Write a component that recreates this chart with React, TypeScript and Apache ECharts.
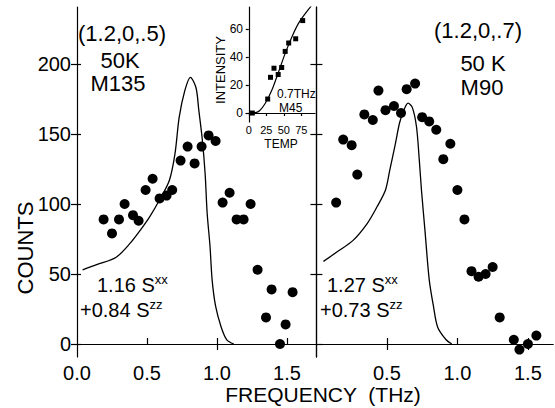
import React, { useEffect, useRef } from "react";
import * as echarts from "echarts";

// Left panel (1.2,0,.5) data points
const leftPtsX = [0.19, 0.25, 0.30, 0.34, 0.40, 0.44, 0.49, 0.54, 0.59, 0.64, 0.68, 0.74, 0.79, 0.84, 0.89, 0.94, 0.99, 1.04, 1.09, 1.14, 1.19, 1.24, 1.29, 1.35, 1.39, 1.45, 1.49, 1.54];
const leftPtsY = [89, 79, 89, 100, 92, 88, 110, 118, 104, 106, 110, 131, 141, 129, 141, 149, 145, 101, 108, 89, 89, 100, 53, 19, 39, 0, 14, 37];
// Left panel model curve
const leftCurveX = [0.04, 0.15, 0.28, 0.38, 0.45, 0.52, 0.59, 0.66, 0.70, 0.73, 0.77, 0.81, 0.85, 0.87, 0.895, 0.915, 0.93, 0.95, 0.965, 0.99, 1.03, 1.07, 1.12];
const leftCurveY = [53, 57, 62, 72, 81, 91, 103, 117, 136, 162, 181, 190.5, 183, 167, 146, 122, 93, 70, 46, 27, 12, 3, 0];

// Right panel (1.2,0,.7) data points
const rightPtsX = [0.14, 0.19, 0.25, 0.29, 0.34, 0.40, 0.44, 0.49, 0.55, 0.60, 0.64, 0.70, 0.75, 0.80, 0.85, 0.90, 0.95, 1.00, 1.05, 1.10, 1.15, 1.20, 1.25, 1.30, 1.40, 1.44, 1.50, 1.56];
const rightPtsY = [101, 146, 142, 121, 164, 160, 181, 167, 170, 165, 182, 186, 162, 159, 153, 132, 143, 110, 89, 52, 48, 50, 55, 19, 3, -4, 0, 6];
// Right panel model curve
const rightCurveX = [0.05, 0.15, 0.26, 0.36, 0.43, 0.49, 0.52, 0.56, 0.59, 0.62, 0.65, 0.68, 0.71, 0.73, 0.745, 0.77, 0.80, 0.83, 0.86, 0.92, 0.96];
const rightCurveY = [59, 66, 74, 86, 98, 110, 124, 143, 158, 167, 172, 169, 155, 131, 110, 81, 46, 27, 12, 3, 0];

// Inset: intensity vs temperature (0.7 THz, M45)
const insetPtsX = [5, 27, 31, 36, 42, 47, 52, 57, 67, 77];
const insetPtsY = [0, 10, 25.5, 32, 27.5, 32.5, 44, 50, 53, 66];
const insetCurveX = [0, 13.6, 23.6, 33, 42.6, 52, 61.7, 71, 80.7, 90, 96];
const insetCurveY = [0, 1, 7, 16.4, 29.5, 42.6, 54.5, 64, 71, 77, 81];

// Tick values
const countTicks = [0, 50, 100, 150, 200];
const freqTicksLeft = [0, 0.5, 1.0, 1.5];
const freqTicksRight = [0.5, 1.0, 1.5];
const insetXTicks = [0, 25, 50, 75];
const insetYTicks = [0, 20, 40, 60];

const FONT = "'Liberation Sans', Arial, sans-serif";

const zip = (xs: number[], ys: number[]) => xs.map((x, i) => [x, ys[i]]);

export default function App() {
  const ref = useRef<HTMLDivElement>(null);
  useEffect(() => {
    document.body.style.margin = "0";
    const chart = echarts.init(ref.current!, undefined, { renderer: "svg" });
    const black = "#000";
    const line = { show: true, lineStyle: { color: black, width: 1.2 } };
    const noLine = { show: false };
    const label = (vals: number[], dec: number) => ({
      show: true,
      customValues: vals,
      color: black,
      fontSize: 20,
      fontFamily: FONT,
      margin: 6,
      formatter: (v: number) => v.toFixed(dec),
    });
    const tick = (vals: number[], inside: boolean, len = 6) => ({
      show: true,
      inside,
      length: len,
      customValues: vals,
      lineStyle: { color: black, width: 1.2 },
    });
    const yMin = -9.3, yMax = 240.7;
    const dot = { color: black, opacity: 1 };

    const option: any = {
      animation: false,
      backgroundColor: "#fff",
      grid: [
        { left: 77, top: 7, width: 238, height: 350 },
        { left: 315, top: 7, width: 238, height: 350 },
        { left: 246, top: 7, width: 69, height: 115 },
      ],
      xAxis: [
        { type: "value", gridIndex: 0, min: 0, max: 1.7, position: "bottom", axisLine: line, axisTick: tick(freqTicksLeft.slice(1), true), axisLabel: label(freqTicksLeft, 1), splitLine: { show: false } },
        { type: "value", gridIndex: 0, min: 0, max: 1.7, position: "top", axisLine: line, axisTick: tick([1.0], true), axisLabel: { show: false }, splitLine: { show: false } },
        { type: "value", gridIndex: 1, min: -0.01, max: 1.678, position: "bottom", axisLine: line, axisTick: tick(freqTicksRight, true), axisLabel: label(freqTicksRight, 1), splitLine: { show: false } },
        { type: "value", gridIndex: 1, min: -0.01, max: 1.678, position: "top", axisLine: line, axisTick: tick([0.5, 1.5], true), axisLabel: { show: false }, splitLine: { show: false } },
        { type: "value", gridIndex: 2, min: -4, max: 94.6, position: "bottom", axisLine: line, axisTick: tick(insetXTicks, false, 3), axisLabel: { show: true, customValues: insetXTicks, color: black, fontSize: 11, fontFamily: FONT, margin: 2 }, splitLine: { show: false } },
      ],
      yAxis: [
        { type: "value", gridIndex: 0, min: yMin, max: yMax, position: "left", axisLine: line, axisTick: tick(countTicks, true, 4), axisLabel: label(countTicks, 0), splitLine: { show: false } },
        { type: "value", gridIndex: 0, min: yMin, max: yMax, position: "right", axisLine: noLine, axisTick: tick(countTicks, true, 6), axisLabel: { show: false }, splitLine: { show: false } },
        { type: "value", gridIndex: 1, min: yMin, max: yMax, position: "left", axisLine: line, axisTick: tick(countTicks, true, 6), axisLabel: { show: false }, splitLine: { show: false } },
        { type: "value", gridIndex: 1, min: yMin, max: yMax, position: "right", axisLine: line, axisTick: tick(countTicks.slice(1), true, 6), axisLabel: { show: false }, splitLine: { show: false } },
        { type: "value", gridIndex: 2, min: -6.4, max: 75.7, position: "left", axisLine: line, axisTick: tick(insetYTicks, false, 3), axisLabel: { show: true, customValues: insetYTicks, color: black, fontSize: 12, fontFamily: FONT, margin: 3 }, splitLine: { show: false } },
      ],
      series: [
        { type: "scatter", xAxisIndex: 0, yAxisIndex: 0, data: zip(leftPtsX, leftPtsY), symbol: "circle", symbolSize: 10, itemStyle: dot },
        { type: "line", xAxisIndex: 0, yAxisIndex: 0, data: zip(leftCurveX, leftCurveY), smooth: 0.3, showSymbol: false, lineStyle: { color: black, width: 1.3 } },
        { type: "scatter", xAxisIndex: 2, yAxisIndex: 2, data: zip(rightPtsX, rightPtsY), symbol: "circle", symbolSize: 10, itemStyle: dot },
        { type: "line", xAxisIndex: 2, yAxisIndex: 2, data: zip(rightCurveX, rightCurveY), smooth: 0.3, showSymbol: false, lineStyle: { color: black, width: 1.3 } },
        { type: "scatter", xAxisIndex: 4, yAxisIndex: 4, data: zip(insetPtsX, insetPtsY), symbol: "rect", symbolSize: 5, itemStyle: dot },
        { type: "line", xAxisIndex: 4, yAxisIndex: 4, data: zip(insetCurveX, insetCurveY), smooth: 0.3, showSymbol: false, clip: true, lineStyle: { color: black, width: 1.2 } },
      ],
      graphic: [
        { type: "text", x: 122, y: 33, style: { text: "(1.2,0,.5)", fill: black, fontSize: 22, fontFamily: FONT, align: "center", verticalAlign: "middle" } },
        { type: "text", x: 120, y: 60, style: { text: "50K", fill: black, fontSize: 22, fontFamily: FONT, align: "center", verticalAlign: "middle" } },
        { type: "text", x: 118, y: 83, style: { text: "M135", fill: black, fontSize: 22, fontFamily: FONT, align: "center", verticalAlign: "middle" } },
        { type: "text", x: 478, y: 30, style: { text: "(1.2,0,.7)", fill: black, fontSize: 22, fontFamily: FONT, align: "center", verticalAlign: "middle" } },
        { type: "text", x: 483, y: 63, style: { text: "50 K", fill: black, fontSize: 22, fontFamily: FONT, align: "center", verticalAlign: "middle" } },
        { type: "text", x: 482, y: 87, style: { text: "M90", fill: black, fontSize: 22, fontFamily: FONT, align: "center", verticalAlign: "middle" } },
        { type: "text", x: 97, y: 285, style: { text: "1.16 S{s|xx}", fill: black, fontSize: 20, fontFamily: FONT, align: "left", verticalAlign: "middle", rich: { s: { fontSize: 13, fontFamily: FONT, fill: black, padding: [0, 0, 12, 0] } } } },
        { type: "text", x: 80, y: 310, style: { text: "+0.84 S{s|zz}", fill: black, fontSize: 20, fontFamily: FONT, align: "left", verticalAlign: "middle", rich: { s: { fontSize: 13, fontFamily: FONT, fill: black, padding: [0, 0, 12, 0] } } } },
        { type: "text", x: 327, y: 285, style: { text: "1.27 S{s|xx}", fill: black, fontSize: 20, fontFamily: FONT, align: "left", verticalAlign: "middle", rich: { s: { fontSize: 13, fontFamily: FONT, fill: black, padding: [0, 0, 12, 0] } } } },
        { type: "text", x: 320, y: 310, style: { text: "+0.73 S{s|zz}", fill: black, fontSize: 20, fontFamily: FONT, align: "left", verticalAlign: "middle", rich: { s: { fontSize: 13, fontFamily: FONT, fill: black, padding: [0, 0, 12, 0] } } } },
        { type: "text", x: 277, y: 94, style: { text: "0.7THz", fill: black, fontSize: 12, fontFamily: FONT, align: "left", verticalAlign: "middle" } },
        { type: "text", x: 279, y: 108, style: { text: "M45", fill: black, fontSize: 12, fontFamily: FONT, align: "left", verticalAlign: "middle" } },
        { type: "text", x: 220, y: 70, rotation: Math.PI / 2, style: { text: "INTENSITY", fill: black, fontSize: 13, fontFamily: FONT, align: "center", verticalAlign: "middle" } },
        { type: "text", x: 281, y: 144, style: { text: "TEMP", fill: black, fontSize: 12, fontFamily: FONT, align: "center", verticalAlign: "middle" } },
        { type: "text", x: 25, y: 248, rotation: Math.PI / 2, style: { text: "COUNTS", fill: black, fontSize: 22, fontFamily: FONT, align: "center", verticalAlign: "middle" } },
        { type: "text", x: 323, y: 394, style: { text: "FREQUENCY  (THz)", fill: black, fontSize: 21, fontFamily: FONT, align: "center", verticalAlign: "middle" } },
      ],
    };
    chart.setOption(option);
    return () => chart.dispose();
  }, []);
  return <div ref={ref} style={{ width: 555, height: 408 }} />;
}
